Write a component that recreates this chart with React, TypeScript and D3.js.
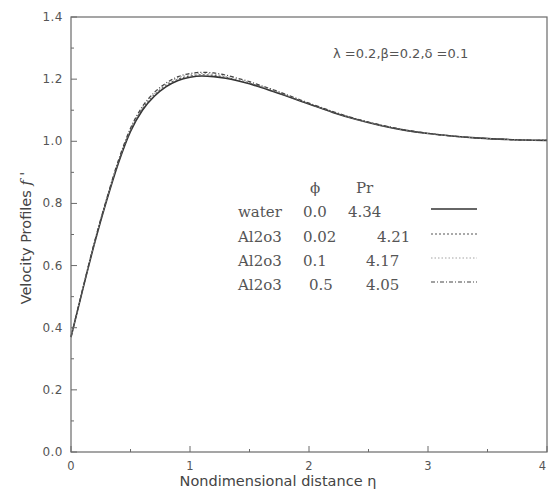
import { useMemo } from 'react';
import * as d3 from 'd3';

// nondimensional distance eta and f' profiles
const etaValues = [0, 0.1, 0.2, 0.3, 0.4, 0.5, 0.6, 0.7, 0.8, 0.9, 1.0, 1.1, 1.2, 1.3, 1.4, 1.5, 1.6, 1.7, 1.8, 2.0, 2.2, 2.4, 2.6, 2.8, 3.0, 3.2, 3.4, 3.6, 3.8, 4.0];
const waterValues = [0.37, 0.525, 0.675, 0.81, 0.932, 1.032, 1.1, 1.145, 1.176, 1.196, 1.206, 1.21, 1.208, 1.203, 1.195, 1.185, 1.173, 1.16, 1.147, 1.12, 1.093, 1.07, 1.051, 1.036, 1.025, 1.017, 1.011, 1.007, 1.004, 1.003];
const al002Values = [0.37, 0.526, 0.677, 0.812, 0.935, 1.035, 1.104, 1.149, 1.18, 1.2, 1.21, 1.214, 1.212, 1.206, 1.197, 1.187, 1.175, 1.162, 1.148, 1.121, 1.094, 1.071, 1.052, 1.036, 1.025, 1.017, 1.011, 1.007, 1.004, 1.003];
const al01Values = [0.37, 0.527, 0.678, 0.814, 0.938, 1.038, 1.108, 1.153, 1.184, 1.204, 1.214, 1.218, 1.216, 1.209, 1.2, 1.189, 1.177, 1.164, 1.15, 1.122, 1.095, 1.071, 1.052, 1.037, 1.025, 1.017, 1.011, 1.007, 1.004, 1.003];
const al05Values = [0.37, 0.528, 0.68, 0.816, 0.941, 1.042, 1.112, 1.157, 1.188, 1.208, 1.218, 1.222, 1.22, 1.213, 1.203, 1.192, 1.179, 1.166, 1.152, 1.123, 1.096, 1.072, 1.053, 1.037, 1.026, 1.017, 1.011, 1.007, 1.004, 1.003];

const fluidNames = ['water', 'Al2o3', 'Al2o3', 'Al2o3'];
const phiLabels = ['0.0', '0.02', '0.1', '0.5'];
const prLabels = ['4.34', '4.21', '4.17', '4.05'];

const xTicks = [0, 1, 2, 3, 4];
const yTickLabels = ['0.0', '0.2', '0.4', '0.6', '0.8', '1.0', '1.2', '1.4'];

const W = 549;
const H = 492;
const margin = { top: 17, right: 2, bottom: 40, left: 71 };

const STYLES = [
  { stroke: '#333', width: 1.6, dash: null },
  { stroke: '#555', width: 1.1, dash: '2,2' },
  { stroke: '#999', width: 0.9, dash: '1.5,2' },
  { stroke: '#444', width: 1.2, dash: '4,2,1,2' },
];

export default function App() {
  const x = d3.scaleLinear().domain([0, 4]).range([margin.left, W - margin.right]);
  const y = d3.scaleLinear().domain([0, 1.4]).range([H - margin.bottom, margin.top]);

  const series = useMemo(() => [waterValues, al002Values, al01Values, al05Values], []);
  const line = d3.line<number>()
    .x((_, i) => x(etaValues[i]))
    .y(d => y(d))
    .curve(d3.curveMonotoneX);

  const xMinor = d3.range(0.5, 4, 1);
  const yMinor = d3.range(0.1, 1.4, 0.2);
  const axisColor = '#6a6a6a';
  const textColor = '#555';

  const legX = 238;
  const legRows = [217, 242, 266, 290];
  const phiX = [303, 303, 303, 309];
  const prX = [348, 377, 366, 366];

  return (
    <svg width={W} height={H} style={{ position: 'absolute', left: 0, top: 0, background: '#fff' }}>
      {series.map((vals, i) => (
        <path key={i} d={line(vals) || ''} fill="none" stroke={STYLES[i].stroke}
          strokeWidth={STYLES[i].width} strokeDasharray={STYLES[i].dash || undefined} />
      ))}

      <rect x={margin.left} y={margin.top} width={W - margin.right - margin.left}
        height={H - margin.bottom - margin.top} fill="none" stroke={axisColor} strokeWidth={1.2} />

      {/* x ticks, inward */}
      {xTicks.map(t => (
        <g key={t}>
          <line x1={x(t)} x2={x(t)} y1={y(0)} y2={y(0) - 6} stroke={axisColor} />
          <text x={t === 4 ? x(t) - 1 : x(t)} y={470} textAnchor={t === 4 ? 'end' : 'middle'}
            fontFamily="DejaVu Sans" fontSize={11.5} fill={textColor}>{t}</text>
        </g>
      ))}
      {xMinor.map(t => (
        <line key={t} x1={x(t)} x2={x(t)} y1={y(0)} y2={y(0) - 3} stroke={axisColor} />
      ))}

      {/* y ticks, inward */}
      {yTickLabels.map((lab, i) => {
        const v = i * 0.2;
        return (
          <g key={lab}>
            <line x1={x(0)} x2={x(0) + 6} y1={y(v)} y2={y(v)} stroke={axisColor} />
            <text x={63} y={y(v) + 4} textAnchor="end" fontFamily="DejaVu Sans" fontSize={12}
              letterSpacing={0.5} fill={textColor}>{lab}</text>
          </g>
        );
      })}
      {yMinor.map(v => (
        <line key={v} x1={x(0)} x2={x(0) + 3} y1={y(v)} y2={y(v)} stroke={axisColor} />
      ))}

      <text transform={`translate(31,${238}) rotate(-90)`} textAnchor="middle"
        fontFamily="DejaVu Sans" fontSize={14.5} fill="#444">
        Velocity Profiles <tspan fontFamily="DejaVu Serif" fontStyle="italic">f '</tspan>
      </text>
      <text x={278} y={486} textAnchor="middle" fontFamily="DejaVu Sans" fontSize={14.5} fill="#444">
        Nondimensional distance η
      </text>

      <text x={333} y={58} fontFamily="DejaVu Sans" fontSize={13} fill={textColor}>
        λ =0.2,β=0.2,δ =0.1
      </text>

      {/* legend */}
      <g fontFamily="DejaVu Serif" fontSize={15} fill={textColor}>
        <text x={310} y={193}>ϕ</text>
        <text x={356} y={193}>Pr</text>
        {fluidNames.map((n, i) => (
          <g key={i}>
            <text x={legX} y={legRows[i]}>{n}</text>
            <text x={phiX[i]} y={legRows[i]}>{phiLabels[i]}</text>
            <text x={prX[i]} y={legRows[i]}>{prLabels[i]}</text>
            <line x1={431} x2={477} y1={legRows[i] - 8} y2={legRows[i] - 8} stroke={STYLES[i].stroke}
              strokeWidth={STYLES[i].width} strokeDasharray={STYLES[i].dash || undefined} />
          </g>
        ))}
      </g>
    </svg>
  );
}
